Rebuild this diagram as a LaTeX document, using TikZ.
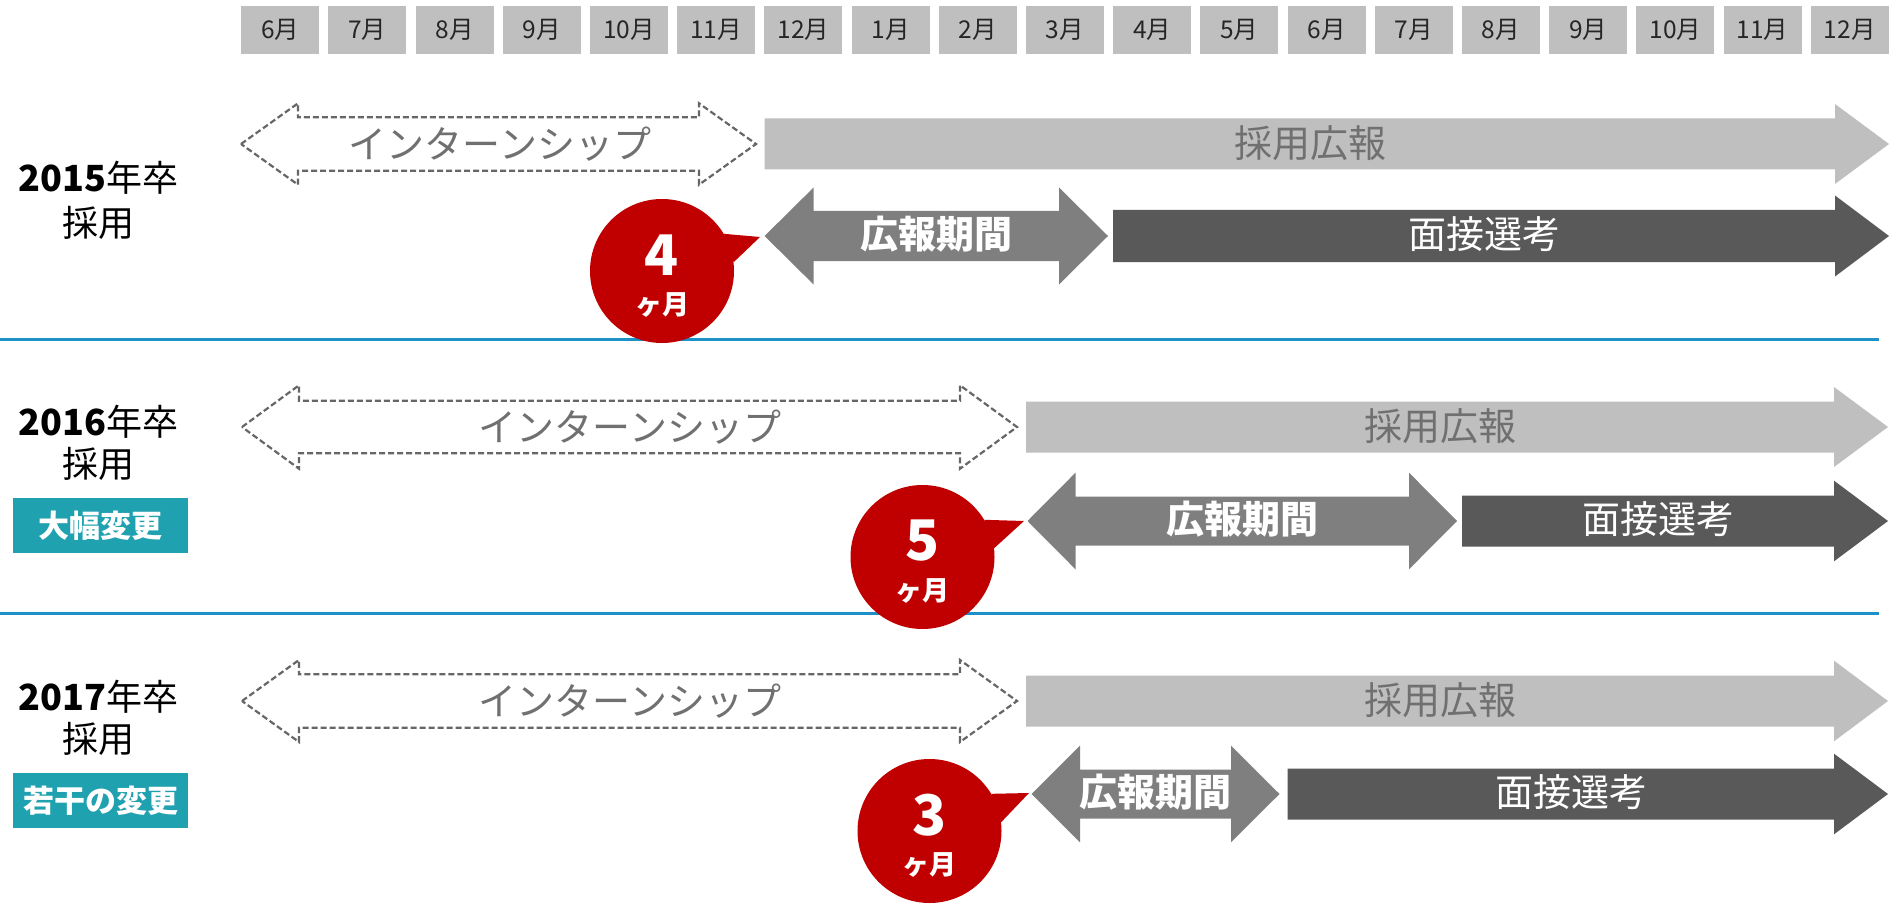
\documentclass[tikz,border=0pt]{standalone}
\usepackage{fontspec}
\setmainfont{Noto Sans CJK JP}
\definecolor{boxgray}{HTML}{BFBFBF}
\definecolor{midgray}{HTML}{7F7F7F}
\definecolor{drkgray}{HTML}{595959}
\definecolor{bubred}{HTML}{C00000}
\definecolor{tealbox}{HTML}{20A1B0}
\definecolor{lineblue}{HTML}{1E90C8}
\definecolor{txtgray}{HTML}{707070}
\definecolor{dashgray}{HTML}{666666}
\newcommand\fsz[1]{\fontsize{#1}{#1}\selectfont}
% right block arrow: x1, x2(tip), yc, h, H, L, style
\newcommand\rarrow[7]{\path[#7] ({#1},{#3-#4}) -- ({#2-#6},{#3-#4}) -- ({#2-#6},{#3-#5}) -- ({#2},{#3}) -- ({#2-#6},{#3+#5}) -- ({#2-#6},{#3+#4}) -- ({#1},{#3+#4}) -- cycle;}
% double block arrow
\newcommand\darrow[7]{\path[#7] ({#1},{#3}) -- ({#1+#6},{#3-#5}) -- ({#1+#6},{#3-#4}) -- ({#2-#6},{#3-#4}) -- ({#2-#6},{#3-#5}) -- ({#2},{#3}) -- ({#2-#6},{#3+#5}) -- ({#2-#6},{#3+#4}) -- ({#1+#6},{#3+#4}) -- ({#1+#6},{#3+#5}) -- cycle;}
\tikzset{
  monthbox/.style={fill=boxgray, minimum width=78, minimum height=47.7, inner sep=0, text=black!85, font=\fsz{24.5}},
  interval/.style={draw=dashgray, line width=2.2pt, dash pattern=on 6pt off 3pt, fill=white},
  koho/.style={fill=boxgray},
  kikan/.style={fill=midgray},
  mensetsu/.style={fill=drkgray},
  grayt/.style={text=txtgray, font=\fsz{38}, inner sep=0},
  whitebold/.style={text=white, font=\fsz{38}\bfseries, inner sep=0},
  whitet/.style={text=white, font=\fsz{38}, inner sep=0},
  bubble/.style={circle, fill=bubred, minimum size=144, inner sep=0},
  bubnum/.style={text=white, font=\fsz{56}\bfseries, inner sep=0},
  bubunit/.style={text=white, font=\fsz{27}\bfseries, inner sep=0},
  rowlab/.style={text=black, font=\fsz{36}, inner sep=0},
  tagbox/.style={fill=tealbox, minimum width=175, minimum height=55, inner sep=0, text=white, font=\fsz{31}\bfseries},
  sep/.style={draw=lineblue, line width=3pt}
}
\begin{document}
\begin{tikzpicture}[x=1pt, y=-1pt]
\useasboundingbox (0,0) rectangle (1898,904);
% month header
\foreach \m [count=\i from 0] in {6,7,8,9,10,11,12,1,2,3,4,5,6,7,8,9,10,11,12}{
  \node[monthbox] (m\i) at ({280.1+87.2*\i},29.85) {\m 月};
}
% separators
\draw[sep] (0,339) coordinate (s1a) -- (1879,339) coordinate (s1b);
\draw[sep] (0,613.5) coordinate (s2a) -- (1879,613.5) coordinate (s2b);
% ---------- row 1 ----------
\darrow{241}{756}{144}{26.7}{40.7}{57}{interval}
\node[grayt] (i1) at (500,144) {インターンシップ};
\rarrow{764.6}{1889}{144}{25.5}{40}{54}{koho}
\node[grayt] (k1) at (1310,143) {採用広報};
\darrow{764.6}{1108}{236}{25}{48.5}{49}{kikan}
\node[whitebold] (p1) at (936,234) {広報期間};
\rarrow{1113}{1889}{236}{26}{40.5}{54}{mensetsu}
\node[whitet] (e1) at (1484,234) {面接選考};
\node[rowlab] (y1) at (98.5,178) {\textbf{2015}年卒};
\node[rowlab] (r1) at (98.5,223) {採用};
% ---------- row 2 ----------
\darrow{242}{1017}{427}{26.3}{41.7}{57}{interval}
\node[grayt] (i2) at (630,427) {インターンシップ};
\rarrow{1026}{1888}{427}{25.5}{40}{54}{koho}
\node[grayt] (k2) at (1440,426) {採用広報};
\darrow{1027.5}{1457}{521}{24.5}{48.3}{48}{kikan}
\node[whitebold] (p2) at (1242,519) {広報期間};
\rarrow{1462}{1888}{521}{25.5}{40.3}{54}{mensetsu}
\node[whitet] (e2) at (1658,519) {面接選考};
\node[rowlab] (y2) at (98.5,422) {\textbf{2016}年卒};
\node[rowlab] (r2) at (98.5,464) {採用};
\node[tagbox] (c2) at (100.7,525.5) {大幅変更};
% ---------- row 3 ----------
\darrow{242}{1017}{701}{26.7}{41}{57}{interval}
\node[grayt] (i3) at (630,701) {インターンシップ};
\rarrow{1026}{1888}{701}{25.5}{40.3}{54}{koho}
\node[grayt] (k3) at (1440,700) {採用広報};
\darrow{1031.5}{1279.5}{794}{24.5}{48.3}{48.5}{kikan}
\node[whitebold] (p3) at (1155,792) {広報期間};
\rarrow{1287.5}{1888}{794}{25.5}{40.3}{54}{mensetsu}
\node[whitet] (e3) at (1571,792) {面接選考};
\node[rowlab] (y3) at (98.5,697) {\textbf{2017}年卒};
\node[rowlab] (r3) at (98.5,739) {採用};
\node[tagbox] (c3) at (100.7,800.7) {若干の変更};
% ---------- bubbles ----------
\coordinate (t1) at (760,237);
\coordinate (t2) at (1024,521);
\coordinate (t3) at (1029,793);
\node[bubble] (b1) at (662,271) {};
\fill[bubred] (b1.31) -- (t1) -- (b1.7) -- cycle;
\node[bubnum] (n1) at (662,255) {4};
\node[bubunit] (u1) at (662,305) {ヶ月};
\node[bubble] (b2) at (922.5,557) {};
\fill[bubred] (b2.31) -- (t2) -- (b2.7) -- cycle;
\node[bubnum] (n2) at (922.5,541) {5};
\node[bubunit] (u2) at (922.5,591) {ヶ月};
\node[bubble] (b3) at (929.5,831) {};
\fill[bubred] (b3.31) -- (t3) -- (b3.7) -- cycle;
\node[bubnum] (n3) at (929.5,815) {3};
\node[bubunit] (u3) at (929.5,865) {ヶ月};
\end{tikzpicture}
\end{document}
